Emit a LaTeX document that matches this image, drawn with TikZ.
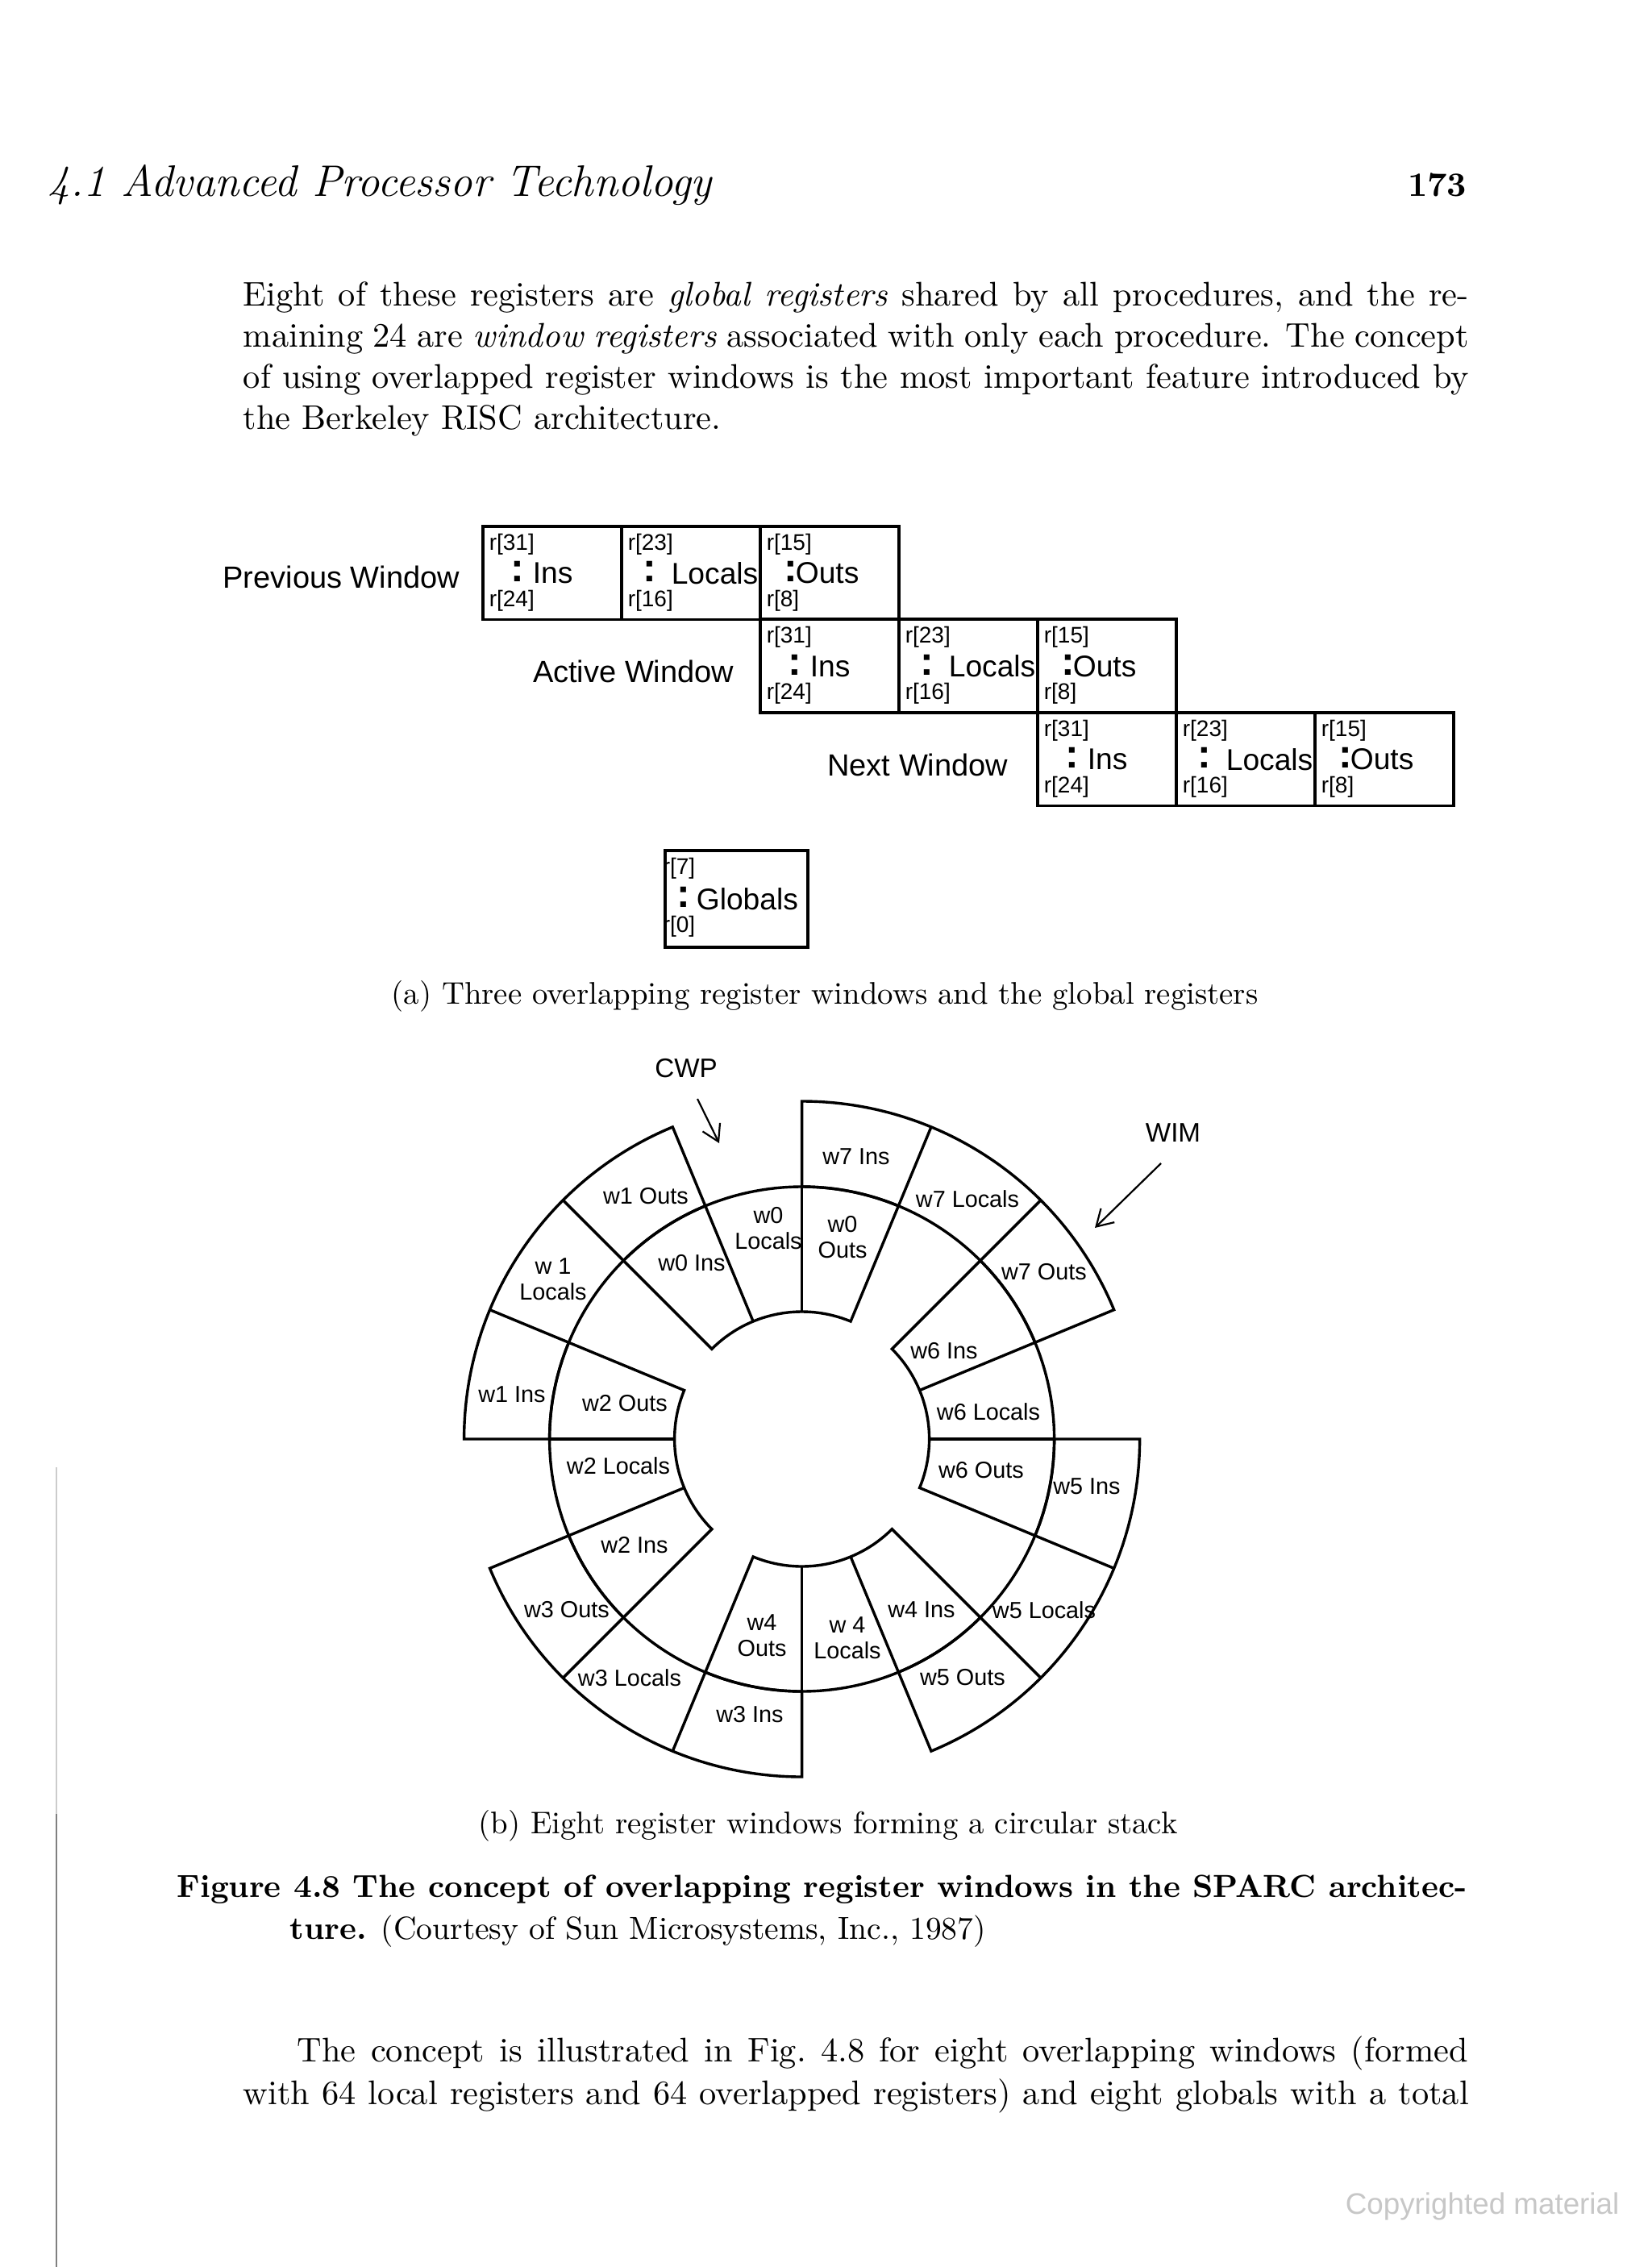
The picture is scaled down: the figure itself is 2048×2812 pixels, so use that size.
\documentclass[tikz,border=0pt]{standalone}
\usepackage{fontspec}
\newfontfamily\diag{Liberation Sans}
\usetikzlibrary{arrows.meta}
\newcommand\bodyfont{\fontsize{10.6}{12.75}\selectfont}
\newcommand\capfont{\fontsize{9.7}{12}\selectfont}
\newcommand\regbox[8]{%
  \begin{scope}[shift={(#2,#3)}]
    \node[regcell] (#1) at (0,0) {};
    \node[rsmall] (#1-top) at (9,24) {#4};
    \node[rcolon] (#1-colon) at (#6,58) {:};
    \node[rmain] (#1-main) at (#7,60) {#8};
    \node[rsmall] (#1-bot) at (9,94) {#5};
  \end{scope}}
\newcommand\wsector[4]{%
  \draw[ring] (#1:#3) -- (#1:#4) arc[start angle=#1, end angle=#2, radius=#4]
    -- (#2:#3) arc[start angle=#2, end angle=#1, radius=#3] -- cycle;}
\newcommand\wwin[3]{%
  \pgfmathsetmacro\wa{#1-22.5}\pgfmathsetmacro\wb{#1-45}\pgfmathsetmacro\wc{#1-67.5}%
  \wsector{#1}{\wc}{#2}{#3}%
  \draw[ring] (\wa:#2) -- (\wa:#3);
  \draw[ring] (\wb:#2) -- (\wb:#3);}
\begin{document}
\begin{tikzpicture}[x=0.25pt,y=-0.25pt,
  txt/.style={inner sep=0, anchor=base west, font=\bodyfont},
  regcell/.style={draw, line width=0.9pt, anchor=north west, inner sep=0,
    minimum width=43pt, minimum height=28.9pt},
  rsmall/.style={inner sep=0, anchor=west, font=\diag\fontsize{7}{8}\selectfont},
  rcolon/.style={inner sep=0, anchor=center, font=\diag\fontsize{12.5}{13}\selectfont\bfseries},
  rmain/.style={inner sep=0, anchor=west, font=\diag\fontsize{9.3}{10}\selectfont},
  wlab/.style={inner sep=0, anchor=east, font=\diag\fontsize{9.5}{10}\selectfont},
  ring/.style={line width=0.85pt, line join=miter},
  wl/.style={inner sep=0, align=center, font=\diag\fontsize{7.2}{8}\selectfont},
  ptr/.style={inner sep=0, font=\diag\fontsize{8.3}{9}\selectfont},
  arr/.style={line width=0.55pt, -{Straight Barb[length=5pt,width=6pt]}}]
\useasboundingbox (0,0) rectangle (2048,2812);
\fill[white] (0,0) rectangle (2048,2812);

% page edge line
\draw[black!20, line width=0.5pt] (70,1820) -- (70,2250);
\draw[black!50, line width=0.5pt] (70,2250) -- (70,2812);

% running head
\node[txt, font=\fontsize{13.7}{15}\selectfont\itshape] (head) at (59,244) {4.1 Advanced Processor Technology};
\node[inner sep=0, anchor=base east, font=\fontsize{10.6}{13}\selectfont\bfseries] (pageno) at (1820,244) {173};

% paragraph
\node[txt] (p1) at (301,380) {\hbox to 380pt{Eight of these registers are \textit{global registers} shared by all procedures, and the re-}};
\node[txt] (p2) at (301,431) {\hbox to 380pt{maining 24 are \textit{window registers} associated with only each procedure. The concept}};
\node[txt] (p3) at (301,482) {\hbox to 380pt{of using overlapped register windows is the most important feature introduced by}};
\node[txt] (p4) at (301,533) {the Berkeley RISC architecture.};

% (a) register windows
\regbox{pins}{597}{651}{r[31]}{r[24]}{45}{63}{Ins}
\regbox{ploc}{769}{651}{r[23]}{r[16]}{37}{63}{Locals}
\regbox{pout}{941}{651}{r[15]}{r[8]}{40}{45}{Outs}
\regbox{ains}{941}{766.5}{r[31]}{r[24]}{45}{63}{Ins}
\regbox{aloc}{1113}{766.5}{r[23]}{r[16]}{37}{63}{Locals}
\regbox{aout}{1285}{766.5}{r[15]}{r[8]}{40}{45}{Outs}
\regbox{nins}{1285}{882}{r[31]}{r[24]}{45}{63}{Ins}
\regbox{nloc}{1457}{882}{r[23]}{r[16]}{37}{63}{Locals}
\regbox{nout}{1629}{882}{r[15]}{r[8]}{40}{45}{Outs}

\node[wlab] (prevlbl) at (571,716) {Previous Window};
\node[wlab] (actlbl) at (911,833) {Active Window};
\node[wlab] (nextlbl) at (1251,949) {Next Window};

% globals
\node[draw, line width=0.9pt, anchor=north west, inner sep=0,
  minimum width=44.25pt, minimum height=30pt] (glob) at (823,1053) {};
\node[rsmall] (glob-top) at (821,1077) {r[7]};
\node[rcolon] (glob-colon) at (848,1113) {:};
\node[rmain] (glob-main) at (863,1115) {Globals};
\node[rsmall] (glob-bot) at (821,1149) {r[0]};

\node[inner sep=0, anchor=base, font=\capfont] (capa) at (1023,1245) {(a) Three overlapping register windows and the global registers};

% (b) circular stack
\begin{scope}[shift={(994.6,1785)}, y=0.25pt]
  \wwin{135}{158}{313}
  \wwin{45}{158}{313}
  \wwin{-45}{158}{313}
  \wwin{-135}{158}{313}
  \wwin{90}{313}{419}
  \wwin{0}{313}{419}
  \wwin{-90}{313}{419}
  \wwin{180}{313}{419}
\end{scope}

\node[wl] (l7i) at (1062,1435) {w7 Ins};
\node[wl] (l7l) at (1200,1487) {w7 Locals};
\node[wl] (l7o) at (1295,1578) {w7 Outs};
\node[wl] (l0o) at (1045,1535) {w0\\Outs};
\node[wl] (l0l) at (953,1524) {w0\\Locals};
\node[wl] (l0i) at (858,1567) {w0 Ins};
\node[wl] (l1o) at (801,1484) {w1 Outs};
\node[wl] (l1l) at (686,1587) {w 1\\Locals};
\node[wl] (l1i) at (635,1730) {w1 Ins};
\node[wl] (l2o) at (775,1741) {w2 Outs};
\node[wl] (l2l) at (767,1818) {w2 Locals};
\node[wl] (l2i) at (787,1917) {w2 Ins};
\node[wl] (l3o) at (703,1997) {w3 Outs};
\node[wl] (l3l) at (781,2081) {w3 Locals};
\node[wl] (l3i) at (930,2127) {w3 Ins};
\node[wl] (l4o) at (945,2029) {w4\\Outs};
\node[wl] (l4l) at (1051,2032) {w 4\\Locals};
\node[wl] (l4i) at (1143,1997) {w4 Ins};
\node[wl] (l5o) at (1194,2081) {w5 Outs};
\node[wl] (l5l) at (1295,1997) {w5 Locals};
\node[wl] (l5i) at (1348,1844) {w5 Ins};
\node[wl] (l6o) at (1217,1824) {w6 Outs};
\node[wl] (l6l) at (1226,1751) {w6 Locals};
\node[wl] (l6i) at (1171,1676) {w6 Ins};

\node[ptr] (cwp) at (851,1325) {CWP};
\node[ptr] (wim) at (1455,1405) {WIM};
\coordinate (cwpA) at (865,1363);
\coordinate (cwpB) at (892,1418);
\coordinate (wimA) at (1440,1443);
\coordinate (wimB) at (1358,1523);
\draw[arr] (cwpA) -- (cwpB);
\draw[arr] (wimA) -- (wimB);

\node[inner sep=0, anchor=base, font=\capfont] (capb) at (1027,2274) {(b) Eight register windows forming a circular stack};

% figure caption
\node[txt, font=\fontsize{9.9}{12}\selectfont\bfseries] (fig1) at (219,2353) {\hbox to 400pt{Figure 4.8 The concept of overlapping register windows in the SPARC architec-}};
\node[txt, font=\fontsize{9.9}{12}\selectfont] (fig2) at (359,2405) {\textbf{ture.} (Courtesy of Sun Microsystems, Inc., 1987)};

% following text
\node[txt] (q1) at (368,2557) {\hbox to 363pt{The concept is illustrated in Fig.\ 4.8 for eight overlapping windows (formed}};
\node[txt] (q2) at (301,2610) {\hbox to 380pt{with 64 local registers and 64 overlapped registers) and eight globals with a total}};

\node[inner sep=0, anchor=west, text=black!22, font=\diag\fontsize{9.2}{10}\selectfont] (copy) at (1668,2737) {Copyrighted material};
\end{tikzpicture}
\end{document}
